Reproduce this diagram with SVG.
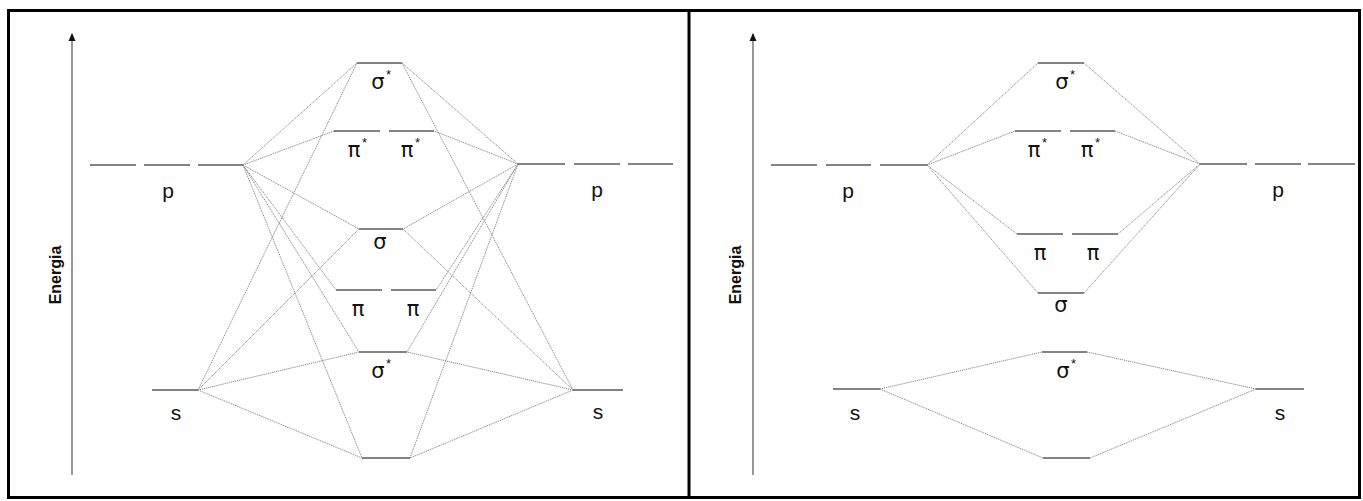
<svg xmlns="http://www.w3.org/2000/svg" width="1363" height="501" viewBox="0 0 1363 501">
<defs>
<marker id="ah" viewBox="0 0 8 16" refX="7" refY="8" markerWidth="8" markerHeight="16" markerUnits="userSpaceOnUse" orient="auto">
<path d="M0,4.5 L8,8 L0,11.5 Z" fill="#111"/>
</marker>
<style>
.lv{stroke:#5a5a5a;stroke-width:1.6;fill:none}
.cn line{stroke:#8a8a8a;stroke-width:1;stroke-dasharray:1.2 0.8;fill:none}
.ax{stroke:#444;stroke-width:1.1;fill:none}
.t{font-family:"Liberation Sans",Arial,sans-serif;font-size:21px;fill:#111;text-anchor:middle}
.g{font-family:"DejaVu Sans","Liberation Sans",sans-serif;font-size:21px;fill:#111;text-anchor:middle}
.st{font-family:"Liberation Sans",Arial,sans-serif;font-size:13px;fill:#111}
.e{font-family:"Liberation Sans",Arial,sans-serif;font-size:16px;font-weight:bold;fill:#111;text-anchor:middle}
</style>
</defs>
<rect x="0" y="0" width="1363" height="501" fill="#fff"/>
<rect x="8.5" y="10.5" width="1351" height="487" fill="none" stroke="#000" stroke-width="3"/>
<line x1="689" y1="10" x2="689" y2="498" stroke="#000" stroke-width="3"/>

<!-- LEFT PANEL -->
<g id="axis-left">
<line class="ax" x1="72" y1="475" x2="72" y2="34" marker-end="url(#ah)"/>
<text class="e" transform="translate(61,275) rotate(-90)">Energia</text>
</g>
<g id="connectors-left" class="cn">
<line x1="243" y1="165" x2="357" y2="63"/>
<line x1="243" y1="165" x2="334" y2="131"/>
<line x1="243" y1="165" x2="359" y2="229"/>
<line x1="243" y1="165" x2="336" y2="290"/>
<line x1="243" y1="165" x2="359" y2="352"/>
<line x1="243" y1="165" x2="362" y2="458"/>
<line x1="198" y1="390" x2="357" y2="63"/>
<line x1="198" y1="390" x2="359" y2="229"/>
<line x1="198" y1="390" x2="359" y2="352"/>
<line x1="198" y1="390" x2="362" y2="458"/>
<line x1="518" y1="164" x2="402" y2="63"/>
<line x1="518" y1="164" x2="434" y2="131"/>
<line x1="518" y1="164" x2="403" y2="229"/>
<line x1="518" y1="164" x2="436" y2="290"/>
<line x1="518" y1="164" x2="407" y2="352"/>
<line x1="518" y1="164" x2="410" y2="458"/>
<line x1="573" y1="390" x2="402" y2="63"/>
<line x1="573" y1="390" x2="403" y2="229"/>
<line x1="573" y1="390" x2="407" y2="352"/>
<line x1="573" y1="390" x2="410" y2="458"/>
</g>
<g id="L-p-left">
<line class="lv" x1="90" y1="165" x2="136" y2="165"/>
<line class="lv" x1="144" y1="165" x2="190" y2="165"/>
<line class="lv" x1="198" y1="165" x2="243" y2="165"/>
<text class="t" x="168" y="198">p</text>
</g>
<g id="L-p-right">
<line class="lv" x1="518" y1="164" x2="565" y2="164"/>
<line class="lv" x1="574" y1="164" x2="620" y2="164"/>
<line class="lv" x1="628" y1="164" x2="673" y2="164"/>
<text class="t" x="597" y="197">p</text>
</g>
<g id="L-s-left">
<line class="lv" x1="152" y1="390" x2="198" y2="390"/>
<text class="t" x="176" y="420">s</text>
</g>
<g id="L-s-right">
<line class="lv" x1="573" y1="390" x2="623" y2="390"/>
<text class="t" x="598" y="419">s</text>
</g>
<g id="L-sigma-star-p">
<line class="lv" x1="357" y1="63" x2="402" y2="63"/>
<text class="g" x="378" y="89">σ</text><text class="st" x="386" y="79">*</text>
</g>
<g id="L-pi-star">
<line class="lv" x1="334" y1="131" x2="380" y2="131"/>
<line class="lv" x1="389" y1="131" x2="434" y2="131"/>
<text class="g" x="354" y="157">π</text><text class="st" x="362" y="147">*</text>
<text class="g" x="407" y="157">π</text><text class="st" x="415" y="147">*</text>
</g>
<g id="L-sigma-p">
<line class="lv" x1="359" y1="229" x2="403" y2="229"/>
<text class="g" x="380" y="249">σ</text>
</g>
<g id="L-pi">
<line class="lv" x1="336" y1="290" x2="382" y2="290"/>
<line class="lv" x1="391" y1="290" x2="436" y2="290"/>
<text class="g" x="358" y="316">π</text>
<text class="g" x="413" y="316">π</text>
</g>
<g id="L-sigma-star-s">
<line class="lv" x1="359" y1="352" x2="407" y2="352"/>
<text class="g" x="378" y="378">σ</text><text class="st" x="386" y="368">*</text>
</g>
<g id="L-sigma-s">
<line class="lv" x1="362" y1="458" x2="410" y2="458"/>
</g>

<!-- RIGHT PANEL -->
<g id="axis-right">
<line class="ax" x1="753" y1="475" x2="753" y2="34" marker-end="url(#ah)"/>
<text class="e" transform="translate(741,275) rotate(-90)">Energia</text>
</g>
<g id="connectors-right" class="cn">
<line x1="927" y1="165" x2="1038" y2="63"/>
<line x1="927" y1="165" x2="1015" y2="131"/>
<line x1="927" y1="165" x2="1017" y2="234"/>
<line x1="927" y1="165" x2="1038" y2="293"/>
<line x1="1200" y1="164" x2="1084" y2="63"/>
<line x1="1200" y1="164" x2="1115" y2="131"/>
<line x1="1200" y1="164" x2="1118" y2="234"/>
<line x1="1200" y1="164" x2="1084" y2="293"/>
<line x1="880" y1="389" x2="1042" y2="352"/>
<line x1="880" y1="389" x2="1043" y2="458"/>
<line x1="1256" y1="389" x2="1087" y2="352"/>
<line x1="1256" y1="389" x2="1090" y2="458"/>
</g>
<g id="R-p-left">
<line class="lv" x1="771" y1="165" x2="817" y2="165"/>
<line class="lv" x1="826" y1="165" x2="871" y2="165"/>
<line class="lv" x1="880" y1="165" x2="927" y2="165"/>
<text class="t" x="848" y="198">p</text>
</g>
<g id="R-p-right">
<line class="lv" x1="1200" y1="164" x2="1247" y2="164"/>
<line class="lv" x1="1255" y1="164" x2="1301" y2="164"/>
<line class="lv" x1="1308" y1="164" x2="1355" y2="164"/>
<text class="t" x="1278" y="197">p</text>
</g>
<g id="R-s-left">
<line class="lv" x1="833" y1="389" x2="880" y2="389"/>
<text class="t" x="855" y="420">s</text>
</g>
<g id="R-s-right">
<line class="lv" x1="1256" y1="389" x2="1304" y2="389"/>
<text class="t" x="1280" y="420">s</text>
</g>
<g id="R-sigma-star-p">
<line class="lv" x1="1038" y1="63" x2="1084" y2="63"/>
<text class="g" x="1062" y="89">σ</text><text class="st" x="1070" y="79">*</text>
</g>
<g id="R-pi-star">
<line class="lv" x1="1015" y1="131" x2="1061" y2="131"/>
<line class="lv" x1="1070" y1="131" x2="1115" y2="131"/>
<text class="g" x="1034" y="157">π</text><text class="st" x="1042" y="147">*</text>
<text class="g" x="1087" y="157">π</text><text class="st" x="1095" y="147">*</text>
</g>
<g id="R-pi">
<line class="lv" x1="1017" y1="234" x2="1063" y2="234"/>
<line class="lv" x1="1072" y1="234" x2="1118" y2="234"/>
<text class="g" x="1040" y="260">π</text>
<text class="g" x="1093" y="260">π</text>
</g>
<g id="R-sigma-p">
<line class="lv" x1="1038" y1="293" x2="1084" y2="293"/>
<text class="g" x="1061" y="312">σ</text>
</g>
<g id="R-sigma-star-s">
<line class="lv" x1="1042" y1="352" x2="1087" y2="352"/>
<text class="g" x="1063" y="378">σ</text><text class="st" x="1071" y="368">*</text>
</g>
<g id="R-sigma-s">
<line class="lv" x1="1043" y1="458" x2="1090" y2="458"/>
</g>
</svg>
